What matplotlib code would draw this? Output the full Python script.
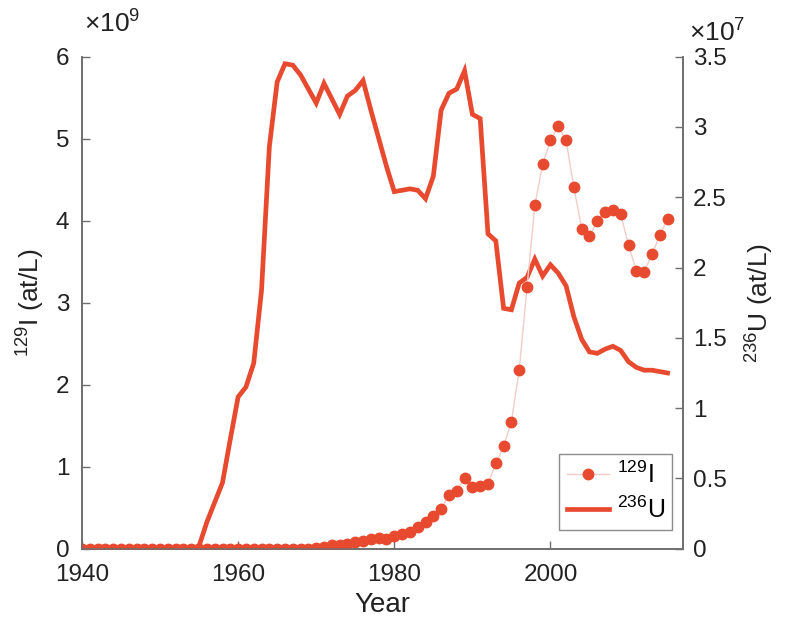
import numpy as np
import matplotlib
matplotlib.use("Agg")
import matplotlib.pyplot as plt

plt.rcParams['font.family'] = ['Liberation Sans', 'DejaVu Sans']
plt.rcParams['mathtext.fontset'] = 'custom'
plt.rcParams['mathtext.rm'] = 'Liberation Sans'

# ===== DATOS =====
years = np.arange(1940, 2016)

# 129I en unidades de 1e9 at/L (1940-2015)
i129 = [0.0] * 28 + [
    0.0, 0.0, 0.01, 0.02, 0.04, 0.05, 0.06, 0.08, 0.10, 0.12,   # 1968-1977
    0.13, 0.12, 0.16, 0.18, 0.21, 0.26, 0.33, 0.40, 0.48, 0.66,  # 1978-1987
    0.71, 0.86, 0.75, 0.77, 0.79, 1.04, 1.25, 1.55, 2.18, 3.19,  # 1988-1997
    4.19, 4.69, 4.98, 5.15, 4.98, 4.41, 3.90, 3.81, 4.00, 4.11,  # 1998-2007
    4.13, 4.08, 3.70, 3.39, 3.38, 3.59, 3.82, 4.02,              # 2008-2015
]

# 236U en unidades de 1e7 at/L (1940-2015)
u236 = [0.0] * 15 + [
    0.02, 0.19, 0.33, 0.47, 0.78, 1.08, 1.15, 1.32, 1.84, 2.86,  # 1955-1964
    3.32, 3.45, 3.44, 3.37, 3.27, 3.17, 3.31, 3.20, 3.09, 3.22,  # 1965-1974
    3.26, 3.33, 3.12, 2.92, 2.72, 2.54, 2.55, 2.56, 2.55, 2.49,  # 1975-1984
    2.65, 3.12, 3.24, 3.27, 3.40, 3.09, 3.06, 2.24, 2.19, 1.71,  # 1985-1994
    1.70, 1.89, 1.93, 2.06, 1.94, 2.02, 1.96, 1.87, 1.65, 1.49,  # 1995-2004
    1.40, 1.39, 1.42, 1.44, 1.41, 1.33, 1.29, 1.27, 1.27, 1.26,  # 2005-2014
    1.25,                                                        # 2015
]

xticks = [1940, 1960, 1980, 2000]
yticks_l = [0, 1, 2, 3, 4, 5, 6]
yticks_r = [0, 0.5, 1, 1.5, 2, 2.5, 3, 3.5]

rojo = '#E84A2F'
rosa = '#F2CCC6'
gris = '#6E6E6E'

# ===== PLOT =====
fig = plt.figure(figsize=(7.88, 6.30), dpi=100)
ax = fig.add_axes([0.104, 0.129, 0.763, 0.781])
ax2 = ax.twinx()

l2, = ax2.plot(years, u236, color=rojo, lw=3.4, solid_joinstyle='miter',
               label='$\\mathregular{^{236}}$U')
l1, = ax.plot(years, i129, color=rosa, lw=1.0, marker='o', ms=7.5,
              mfc=rojo, mec=rojo, label='$\\mathregular{^{129}}$I')

ax.set_zorder(ax2.get_zorder() + 1)
ax.patch.set_visible(False)

ax.set_xlim(1940, 2017)
ax.set_ylim(0, 6)
ax2.set_ylim(0, 3.5)
ax.set_xticks(xticks)
ax.set_yticks(yticks_l)
ax2.set_yticks(yticks_r)
ax2.set_yticklabels(['0', '0.5', '1', '1.5', '2', '2.5', '3', '3.5'])

for a in (ax, ax2):
    a.spines['top'].set_visible(False)
    for s in a.spines.values():
        s.set_color(gris)
        s.set_linewidth(1.2)
    a.tick_params(direction='in', length=6, width=1.0, color=gris,
                  labelsize=17.5, labelcolor='#222222')
ax.tick_params(axis='y', pad=9)
ax2.tick_params(axis='y', pad=7)
ax.tick_params(axis='x', pad=11)

ax.set_xlabel('Year', fontsize=20, color='#222222', labelpad=4)
ax.set_ylabel('$\\mathregular{^{129}}$I (at/L)', fontsize=19, color='#222222', labelpad=6)
ax2.set_ylabel('$\\mathregular{^{236}}$U (at/L)', fontsize=19, color='#222222', labelpad=12)

fig.text(0.106, 0.962, '$\\times\\mathregular{10^{9}}$', fontsize=19,
         color='#222222', ha='left', va='center')
fig.text(0.874, 0.948, '$\\times\\mathregular{10^{7}}$', fontsize=19,
         color='#222222', ha='left', va='center')

leg = ax.legend(handles=[l1, l2], loc='lower right', fontsize=18,
                frameon=True, fancybox=False, edgecolor=gris,
                handlelength=1.7, borderpad=0.3, labelspacing=0.35,
                handletextpad=0.3, bbox_to_anchor=(1.003, 0.012))
leg.get_frame().set_linewidth(1.0)

fig.savefig('out.png', dpi=100, facecolor='white')
